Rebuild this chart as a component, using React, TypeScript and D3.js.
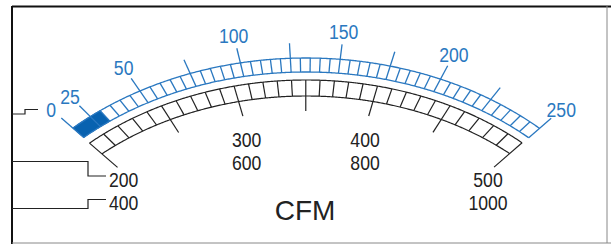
import React from "react";
import * as d3 from "d3";

// blue scale (upper band)
const blueMajor = [0, 25, 50, 75, 100, 125, 150, 175, 200, 225, 250];
const blueLabels = [0, 25, 50, 100, 150, 200, 250];
const blueMinor = d3.range(30, 250, 5).filter((v) => v % 25 !== 0);
const blueFilled = [0, 30];
// black scale (lower band)
const blackMajor = [200, 250, 300, 350, 400, 450, 500];
const blackMinor = d3.range(210, 500, 10).filter((v) => v % 50 !== 0);
const blackLabels = [200, 300, 400, 500];
const blackLabels2 = [400, 600, 800, 1000];
const unit = "CFM";

const W = 611;
const H = 244;
const cx = 306;
const cy = 330;
const A = 348;
const B = 272;
const blue = "#2a78c0";
const blueDark = "#0862b0";
const ink = "#222";
const font = "'Liberation Sans', Arial, sans-serif";

const blueAngle = d3.scaleLinear().domain([0, 25, 250]).range([-49.1, -45.3, 49.2]);
const blackAngle = d3.scaleLinear().domain([200, 500]).range([-49.2, 49.1]);

// point on ray at angle deg (from vertical) on ellipse offset by d
function pt(deg: number, d: number): [number, number] {
  const t = (deg * Math.PI) / 180;
  const s = Math.sin(t);
  const c = Math.cos(t);
  const a = A + d;
  const b = B + d;
  const r = 1 / Math.sqrt((s / a) ** 2 + (c / b) ** 2);
  return [cx + r * s, cy - r * c];
}

function arcPts(a0: number, a1: number, d: number) {
  return d3.range(a0, a1, 0.25).concat([a1]).map((t) => pt(t, d));
}

const line = d3.line();

function tick(deg: number, d0: number, d1: number) {
  const p0 = pt(deg, d0);
  const p1 = pt(deg, d1);
  return { x1: p0[0], y1: p0[1], x2: p1[0], y2: p1[1] };
}

// condensed label, like the narrow face on the meter
function Narrow(props: { x: number; y: number; dy?: string; children: React.ReactNode }) {
  return (
    <text transform={`translate(${props.x},${props.y}) scale(0.84,1)`} dy={props.dy}>
      {props.children}
    </text>
  );
}

export default function App() {
  const bOut = 0;
  const bIn = -14;
  const kOut = -22;
  const kIn = -38;
  const b0 = blueAngle(0);
  const b1 = blueAngle(250);
  const k0 = blackAngle(200);
  const k1 = blackAngle(500);

  const fillPts = arcPts(blueAngle(blueFilled[0]), blueAngle(blueFilled[1]), bOut).concat(
    arcPts(blueAngle(blueFilled[0]), blueAngle(blueFilled[1]), bIn).reverse()
  );

  return (
    <svg width={W} height={H} style={{ position: "absolute", left: 0, top: 0 }}>
      <rect x={0} y={0} width={W} height={H} fill="#fff" />
      {/* frame */}
      <line x1={12} y1={6.5} x2={W} y2={6.5} stroke="#111" strokeWidth={2} />
      <line x1={12} y1={6} x2={12} y2={H} stroke="#111" strokeWidth={2} />
      <line x1={12} y1={243} x2={W} y2={243} stroke="#888" strokeWidth={1} />
      <line x1={607} y1={6} x2={607} y2={243} stroke="#888" strokeWidth={1} />

      {/* connectors */}
      <g fill="none" stroke={ink} strokeWidth={1.2}>
        <path d="M12,114 H25 V109.5 H38" />
        <path d="M12,161.5 H88 V176 H106" />
        <path d="M12,208.5 H88 V199.5 H106" />
      </g>

      {/* blue band */}
      <path d={line(fillPts as [number, number][]) + "Z"} fill={blueDark} stroke={blueDark} strokeWidth={1} />
      <g stroke={blue} strokeWidth={1.3} fill="none">
        <path d={line(arcPts(b0, b1, bOut)) || ""} />
        <path d={line(arcPts(b0, b1, bIn)) || ""} />
        {blueMinor.map((v) => (
          <line key={v} {...tick(blueAngle(v), bIn, bOut)} />
        ))}
        {blueMajor.map((v) => (
          <line key={v} {...tick(blueAngle(v), bIn, bOut + 15)} />
        ))}
      </g>
      <g fill={blue} fontFamily={font} fontSize={21} textAnchor="middle">
        {blueLabels.map((v) => {
          const p = pt(blueAngle(v), bOut + 28);
          return (
            <Narrow key={v} x={p[0]} y={p[1]} dy="0.35em">
              {v}
            </Narrow>
          );
        })}
      </g>

      {/* black band */}
      <g stroke={ink} strokeWidth={1.2} fill="none">
        <path d={line(arcPts(k0, k1, kOut)) || ""} />
        <path d={line(arcPts(k0, k1, kIn)) || ""} />
        {blackMinor.map((v) => (
          <line key={v} {...tick(blackAngle(v), kIn, kOut)} />
        ))}
        {blackMajor.map((v) => (
          <line key={v} {...tick(blackAngle(v), kOut, v === 200 || v === 500 ? kIn - 20 : kIn - 15)} />
        ))}
      </g>
      <g fill={ink} fontFamily={font} fontSize={21} textAnchor="middle">
        {blackLabels.map((v, i) => {
          const deg = blackAngle(v);
          const p = pt(deg, kIn - 20);
          const s = Math.sin((deg * Math.PI) / 180);
          const c = Math.cos((deg * Math.PI) / 180);
          const x = p[0] - s * 8;
          const y = p[1] + 6 + 21 * c;
          return (
            <g key={v}>
              <Narrow x={x} y={y}>{v}</Narrow>
              <Narrow x={x} y={y + 23}>{blackLabels2[i]}</Narrow>
            </g>
          );
        })}
      </g>
      <text x={305} y={220} fill={ink} fontFamily={font} fontSize={28} textAnchor="middle">
        {unit}
      </text>
    </svg>
  );
}
